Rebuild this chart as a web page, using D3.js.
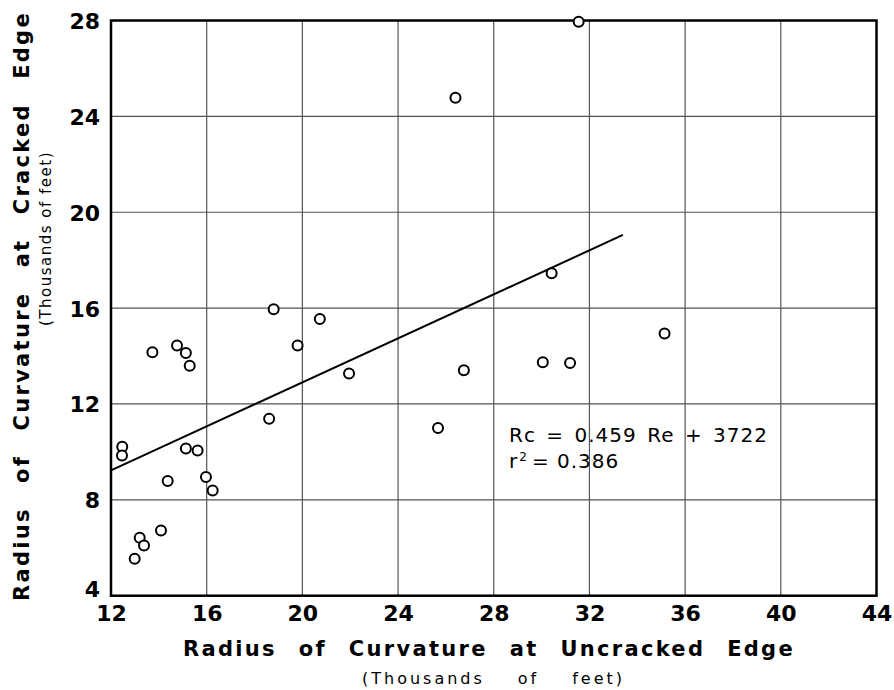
<!DOCTYPE html>
<html>
<head>
<meta charset="utf-8">
<script src="https://cdn.jsdelivr.net/npm/d3@7"></script>
<style>
  html, body { margin: 0; padding: 0; background: #fff; }
  svg { display: block; }
</style>
</head>
<body>
<svg id="chart" width="894" height="690"></svg>
<script>
// Data (thousands of feet)
const uncracked = [18.8, 20.73, 19.8, 21.95, 13.73, 14.76, 15.13, 15.29, 18.61, 12.47, 12.46, 15.13, 15.62, 14.37, 15.97, 16.25, 14.09, 13.2, 13.38, 12.99, 26.75, 30.05, 31.19, 35.14, 25.67, 26.4, 30.42, 31.55];
const cracked   = [15.95, 15.55, 14.44, 13.27, 14.16, 14.44, 14.13, 13.59, 11.38, 10.21, 9.85, 10.14, 10.06, 8.79, 8.95, 8.39, 6.72, 6.42, 6.09, 5.54, 13.41, 13.74, 13.71, 14.94, 11.0, 24.78, 17.45, 27.95];
const xTicks = [12, 16, 20, 24, 28, 32, 36, 40, 44];
const yTicks = [4, 8, 12, 16, 20, 24, 28];
const fitSlope = 0.459;
const fitIntercept = 3.722;
const fitRange = [12, 33.4];
const equationLines = ["Rc = 0.459 Re + 3722", "r\u00B2 = 0.386"];
const xTitle = "Radius of Curvature at Uncracked Edge";
const yTitle = "Radius of Curvature at Cracked Edge";
const unitLabel = "(Thousands of feet)";

const svg = d3.select("#chart");
const L = 111, R = 876.5, T = 20.5, B = 595.7;

const x = d3.scaleLinear().domain([12, 44]).range([L, R]);
const y = d3.scaleLinear().domain([4, 28]).range([B, T]);

const font = "'DejaVu Sans', 'Liberation Sans', sans-serif";

// fit a text's width by widening the gaps between words
function fitWords(sel, target) {
  const node = sel.node();
  const w = node.getComputedTextLength();
  const gaps = (sel.text().match(/ /g) || []).length;
  if (gaps > 0) sel.attr("word-spacing", Math.max(0, (target - w) / gaps));
  return sel;
}

// Grid
const g = svg.append("g");
g.selectAll("line.vg").data(xTicks).enter().append("line")
  .attr("x1", d => x(d)).attr("x2", d => x(d))
  .attr("y1", T).attr("y2", B)
  .attr("stroke", "#555").attr("stroke-width", 1.2);
g.selectAll("line.hg").data(yTicks).enter().append("line")
  .attr("x1", L).attr("x2", R)
  .attr("y1", d => y(d)).attr("y2", d => y(d))
  .attr("stroke", "#555").attr("stroke-width", 1.2);

// Border
svg.append("rect").attr("x", L).attr("y", T)
  .attr("width", R - L).attr("height", B - T)
  .attr("fill", "none").attr("stroke", "#000").attr("stroke-width", 2.5);

// Axes tick labels via d3 axes
const xAxis = d3.axisBottom(x).tickValues(xTicks).tickSize(0).tickPadding(0);
const xa = svg.append("g").attr("transform", `translate(0,${B})`).call(xAxis);
xa.select(".domain").remove();
xa.selectAll("text")
  .attr("y", 25).attr("dy", 0)
  .attr("x", 0)
  .attr("font-family", font).attr("font-size", 22).attr("font-weight", "bold")
  .attr("fill", "#000");

const yAxis = d3.axisLeft(y).tickValues(yTicks).tickSize(0).tickPadding(0);
const ya = svg.append("g").attr("transform", `translate(${L},0)`).call(yAxis);
ya.select(".domain").remove();
ya.selectAll("text")
  .attr("x", -11).attr("dy", 0)
  .attr("y", d => d === 4 ? 1 : 8)
  .attr("text-anchor", "end")
  .attr("font-family", font).attr("font-size", 22).attr("font-weight", "bold")
  .attr("fill", "#000");

// Regression line
const line = d3.line().x(d => x(d)).y(d => y(fitSlope * d + fitIntercept));
svg.append("path").datum(fitRange).attr("d", line)
  .attr("fill", "none").attr("stroke", "#000").attr("stroke-width", 2);

// Points
svg.selectAll("circle.pt").data(uncracked).enter().append("circle")
  .attr("cx", d => x(d)).attr("cy", (d, i) => y(cracked[i]))
  .attr("r", 5)
  .attr("fill", "#fff").attr("stroke", "#000").attr("stroke-width", 2);

// Equation
const t1 = svg.append("text").attr("x", 509).attr("y", 442)
  .attr("font-family", font).attr("font-size", 20)
  .attr("letter-spacing", 1)
  .text(equationLines[0]);
fitWords(t1, 259);
const t2 = svg.append("text").attr("x", 509).attr("y", 468)
  .attr("font-family", font).attr("font-size", 20)
  .attr("letter-spacing", 1);
t2.append("tspan").text("r");
t2.append("tspan").attr("font-size", 12).attr("dy", -7).attr("dx", 1).text("2");
t2.append("tspan").attr("dy", 7).attr("dx", 4).text("=  0.386");

// X titles
const xt = svg.append("text").attr("x", 183).attr("y", 656)
  .attr("font-family", font).attr("font-size", 21).attr("font-weight", "bold")
  .attr("letter-spacing", 2.3)
  .text(xTitle);
fitWords(xt, 612);
const xs = svg.append("text").attr("x", 362).attr("y", 684)
  .attr("font-family", font).attr("font-size", 16)
  .attr("letter-spacing", 3)
  .text(unitLabel);
fitWords(xs, 263);

// Y titles
const yt = svg.append("text")
  .attr("transform", "translate(29,601) rotate(-90)")
  .attr("font-family", font).attr("font-size", 21).attr("font-weight", "bold")
  .attr("letter-spacing", 2.3)
  .text(yTitle);
fitWords(yt, 590);
const ys = svg.append("text")
  .attr("transform", "translate(51,326) rotate(-90)")
  .attr("font-family", font).attr("font-size", 15)
  .attr("letter-spacing", 1.5)
  .text(unitLabel);
fitWords(ys, 152);
</script>
</body>
</html>
